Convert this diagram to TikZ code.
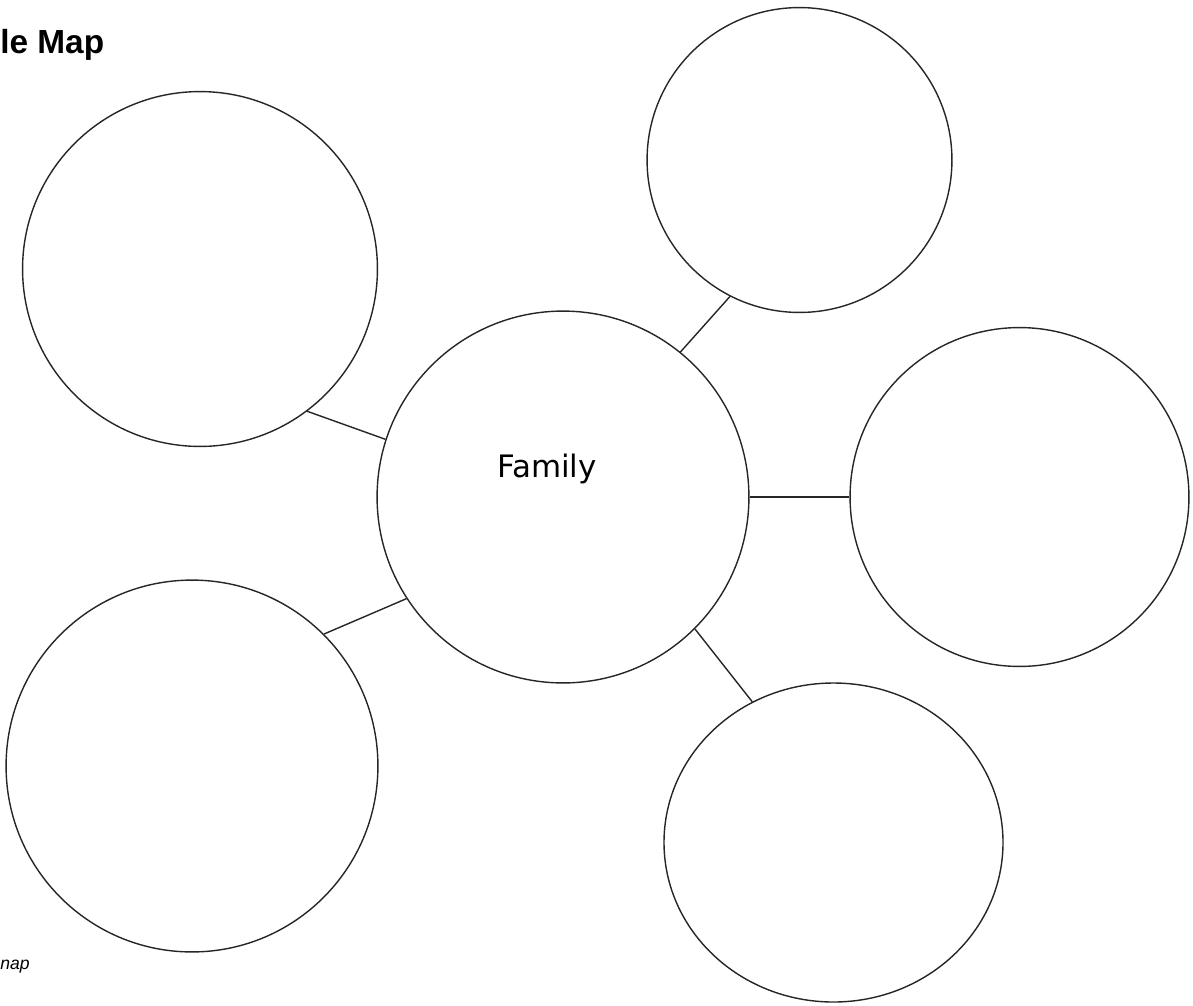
\documentclass[tikz,border=0pt]{standalone}
\usepackage{fontspec}
\usepackage{tikz}
\usetikzlibrary{shapes.geometric, positioning}
\newfontfamily\titlefont{Liberation Sans}
\newfontfamily\hubfont{DejaVu Sans}

\begin{document}
\begin{tikzpicture}[
        x=0.02cm, y=-0.02cm,
        bubble/.style={circle, draw=black!85, line width=0.8pt, inner sep=0pt, minimum size=#1*0.04cm},
        oval/.style={ellipse, draw=black!85, line width=0.8pt, inner sep=0pt},
        spoke/.style={draw=black!85, line width=0.8pt}
    ]
        \useasboundingbox (0,0) rectangle (1193,1005);

        % Burbujas
        \node[bubble=186] (hub) at (563,497) {};
        \node[bubble=177.5] (nw) at (200,269) {};
        \node[bubble=152.5] (ne) at (799.5,160) {};
        \node[bubble=169.5] (east) at (1019.5,497) {};
        \node[bubble=186] (sw) at (192,766) {};
        \node[oval, minimum width=339*0.02cm, minimum height=319*0.02cm] (se) at (833.5,842.5) {};

        % Textos
        \node[anchor=base, inner sep=0pt, font=\hubfont\fontsize{17.6}{20}\selectfont] (famtxt) at (547,477) {Family};
        \node[anchor=base west, inner sep=0pt, font=\titlefont\bfseries\fontsize{19}{23}\selectfont] (title) at (0,53) {le Map};
        \node[anchor=base west, inner sep=0pt, font=\titlefont\itshape\fontsize{10}{12}\selectfont] (foot) at (0,969) {nap};

        % Conectores
        \path[spoke] (hub.162.7) -- (nw.-53);
        \path[spoke] (hub.51.8) -- (ne.243.4);
        \path[spoke] (hub.0) -- (east.180);
        \path[spoke] (hub.-45) -- (se.120.7);
        \path[spoke] (hub.213.6) -- (sw.45);
    \end{tikzpicture}
\end{document}
